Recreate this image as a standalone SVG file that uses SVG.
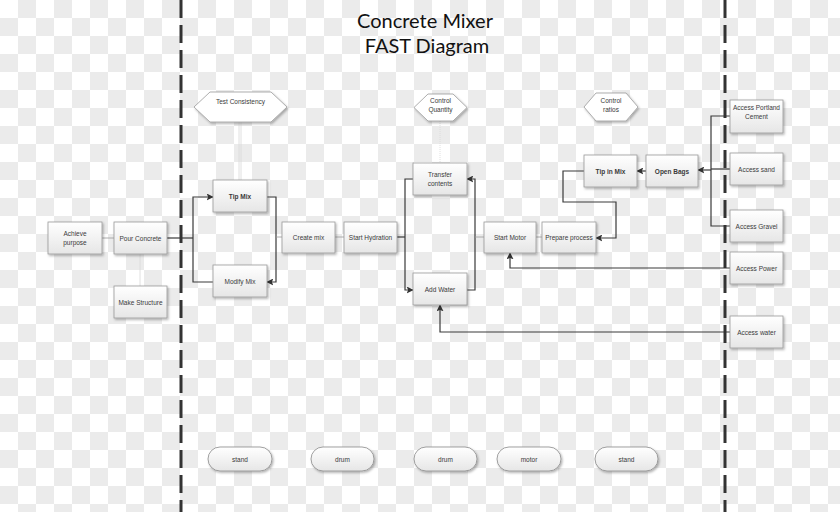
<svg xmlns="http://www.w3.org/2000/svg" width="840" height="512" viewBox="0 0 840 512">
<defs>
<pattern id="chk" width="36" height="36" patternUnits="userSpaceOnUse">
<rect width="36" height="36" fill="#ffffff"/>
<rect x="18" y="0" width="18" height="18" fill="#ebebeb"/>
<rect x="0" y="18" width="18" height="18" fill="#ebebeb"/>
</pattern>
<linearGradient id="g" x1="0" y1="0" x2="0" y2="1">
<stop offset="0" stop-color="#ffffff"/>
<stop offset="1" stop-color="#e6e6e6"/>
</linearGradient>
<filter id="sh" x="-20%" y="-20%" width="150%" height="150%">
<feDropShadow dx="1.2" dy="1.5" stdDeviation="0.8" flood-color="#000" flood-opacity="0.3"/>
</filter>
<marker id="ar" viewBox="0 0 10 10" refX="9" refY="5" markerWidth="7" markerHeight="7" markerUnits="userSpaceOnUse" orient="auto">
<path d="M0 0 L10 5 L0 10 L2 5 Z" fill="#333"/>
</marker>
<style>
.box{fill:url(#g);stroke:#9a9a9a;stroke-width:0.8;filter:url(#sh)}
.hex{fill:#ffffff;stroke:#9a9a9a;stroke-width:0.8;filter:url(#sh)}
.pill{fill:url(#g);stroke:#8a8a8a;stroke-width:0.8;filter:url(#sh)}
.t{font-family:"Liberation Sans",Arial,sans-serif;font-size:6.5px;fill:#3a3a3a;text-anchor:middle}
.b{font-weight:bold}
.c{fill:none;stroke:#3a3a3a;stroke-width:1.2}
.lt{fill:none;stroke:#9a9a9a;stroke-width:0.8}
.vl{fill:none;stroke:#d8d8d8;stroke-width:0.8}
.dash{fill:none;stroke:#333;stroke-width:3;stroke-dasharray:18 7}
.title{font-family:Lato,"Open Sans",sans-serif;font-size:20px;fill:#111;text-anchor:middle}
</style>
</defs>
<rect width="840" height="512" fill="url(#chk)"/>
<text class="title" x="425" y="28">Concrete Mixer</text>
<text class="title" x="427" y="53">FAST Diagram</text>

<g id="connectors">
<path class="lt" d="M102 238 H114"/>
<path class="vl" d="M140 254 V286"/>
<path class="c" d="M167 238 H193"/>
<path class="c" d="M193 238 V197 H213" marker-end="url(#ar)"/>
<path class="c" d="M193 238 V282 H213"/>
<path class="c" d="M267 197 H276 V282 H267" marker-end="url(#ar)"/>
<path class="lt" d="M276 237 H282"/>
<path class="vl" d="M239 122 V180 M241 122 V180"/>
<path class="lt" d="M335 237 H344"/>
<path class="c" d="M397 237 H405"/>
<path class="c" d="M413 179 H405 V290 H413" marker-end="url(#ar)"/>
<path class="c" d="M467 290 H475 V179 H467" marker-end="url(#ar)"/>
<path class="lt" d="M475 237 H484"/>
<path class="vl" d="M440 121 V163" stroke-dasharray="1 1"/>
<path class="lt" d="M536 237 H542"/>
<path class="c" d="M646 171 H637" marker-end="url(#ar)"/>
<path class="c" d="M584 171 H563 V202 H616 V238 H596" marker-end="url(#ar)"/>
<path class="c" d="M730 116 H711 V226 H730"/>
<path class="c" d="M730 169 H711"/>
<path class="c" d="M711 170 H698" marker-end="url(#ar)"/>
<path class="c" d="M730 268 H510 V253" marker-end="url(#ar)"/>
<path class="c" d="M730 332 H440 V305" marker-end="url(#ar)"/>
</g>

<path class="dash" d="M181 0 V512"/>
<path class="dash" d="M725 0 V512"/>

<g id="achieve"><rect class="box" x="48" y="222" width="54" height="32"/><text class="t" x="75" y="236">Achieve</text><text class="t" x="75" y="245">purpose</text></g>
<g id="pour"><rect class="box" x="114" y="222" width="53" height="32"/><text class="t" x="140.5" y="240.5">Pour Concrete</text></g>
<g id="make"><rect class="box" x="114" y="286" width="53" height="32"/><text class="t" x="140.5" y="304.5">Make Structure</text></g>
<g id="test"><polygon class="hex" points="194,107 210,92 271,92 287,107 271,122 210,122"/><text class="t" x="240.5" y="104">Test Consistency</text></g>
<g id="tipmix"><rect class="box" x="213" y="180" width="54" height="32"/><text class="t b" x="240" y="199">Tip Mix</text></g>
<g id="modify"><rect class="box" x="213" y="265" width="54" height="32"/><text class="t" x="240" y="284">Modify Mix</text></g>
<g id="create"><rect class="box" x="282" y="222" width="53" height="31"/><text class="t" x="308.5" y="240">Create mix</text></g>
<g id="hydration"><rect class="box" x="344" y="222" width="53" height="31"/><text class="t" x="370.5" y="240">Start Hydration</text></g>
<g id="quantity"><polygon class="hex" points="414,107.5 428,94 453,94 467,107.5 453,121 428,121"/><text class="t" x="440.5" y="103">Control</text><text class="t" x="440.5" y="112">Quantity</text></g>
<g id="transfer"><rect class="box" x="413" y="163" width="54" height="32"/><text class="t" x="440" y="177">Transfer</text><text class="t" x="440" y="186">contents</text></g>
<g id="addwater"><rect class="box" x="413" y="273" width="54" height="32"/><text class="t" x="440" y="292">Add Water</text></g>
<g id="startmotor"><rect class="box" x="484" y="222" width="52" height="31"/><text class="t" x="510" y="240">Start Motor</text></g>
<g id="prepare"><rect class="box" x="542" y="222" width="54" height="31"/><text class="t" x="569" y="240">Prepare process</text></g>
<g id="ratios"><polygon class="hex" points="584,107 596,93 626,93 638,107 626,121 596,121"/><text class="t" x="611" y="103">Control</text><text class="t" x="611" y="112">ratios</text></g>
<g id="tipinmix"><rect class="box" x="584" y="155" width="53" height="32"/><text class="t b" x="610.5" y="173.5">Tip in Mix</text></g>
<g id="openbags"><rect class="box" x="646" y="155" width="52" height="32"/><text class="t b" x="672" y="173.5">Open Bags</text></g>
<g id="portland"><rect class="box" x="730" y="100" width="53" height="33"/><text class="t" x="756.5" y="109.5">Access Portland</text><text class="t" x="756.5" y="118.5">Cement</text></g>
<g id="sand"><rect class="box" x="730" y="153" width="53" height="32"/><text class="t" x="756.5" y="171.5">Access sand</text></g>
<g id="gravel"><rect class="box" x="730" y="210" width="53" height="32"/><text class="t" x="756.5" y="228.5">Access Gravel</text></g>
<g id="power"><rect class="box" x="730" y="252" width="53" height="32"/><text class="t" x="756.5" y="270.5">Access Power</text></g>
<g id="water"><rect class="box" x="730" y="316" width="53" height="32"/><text class="t" x="756.5" y="334.5">Access water</text></g>

<g id="stand1"><rect class="pill" x="208" y="447" width="64" height="24" rx="12"/><text class="t" x="240" y="461.5">stand</text></g>
<g id="drum1"><rect class="pill" x="311" y="447" width="63" height="24" rx="12"/><text class="t" x="342.5" y="461.5">drum</text></g>
<g id="drum2"><rect class="pill" x="414" y="447" width="63" height="24" rx="12"/><text class="t" x="445.5" y="461.5">drum</text></g>
<g id="motor"><rect class="pill" x="497" y="447" width="64" height="24" rx="12"/><text class="t" x="529" y="461.5">motor</text></g>
<g id="stand2"><rect class="pill" x="595" y="447" width="63" height="24" rx="12"/><text class="t" x="626.5" y="461.5">stand</text></g>
</svg>
